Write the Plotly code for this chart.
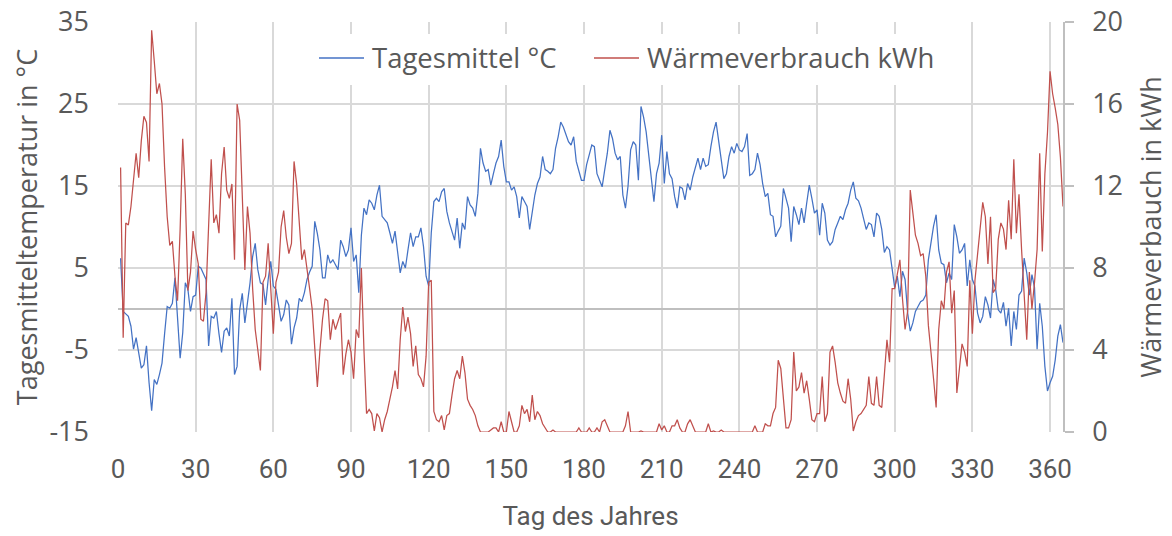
import plotly.graph_objects as go

# Tag des Jahres 1..365
days = list(range(1, 366))

# Tagesmittel °C
temp = [
    6.2, -0.3, -0.6, -0.9, -2.1, -4.9, -3.5, -5.5, -7.2, -6.8,
    -4.5, -9.0, -12.4, -8.6, -9.2, -8.0, -6.6, -3.0, 0.3, 0.1,
    0.7, 3.8, -1.0, -6.0, -2.9, 3.2, 2.4, -0.3, 1.5, 1.7,
    5.2, 5.0, 4.3, 3.6, -4.5, -0.9, -1.1, -0.3, -3.0, -5.3,
    -2.7, -2.3, -3.3, 1.3, -8.0, -7.0, -0.1, 1.9, -1.7, 0.7,
    3.2, 6.4, 8.0, 4.8, 3.2, 3.0, 0.5, 3.6, 5.8, 2.8,
    2.4, 0.5, -1.5, -0.7, 1.1, 0.5, -4.3, -2.3, -1.1, 1.3,
    0.9, 2.0, 3.6, 4.5, 5.2, 10.7, 9.2, 7.2, 3.8, 3.8,
    6.6, 5.6, 6.0, 5.4, 4.8, 8.4, 7.6, 6.4, 7.2, 9.9,
    5.8, 6.6, 2.0, 9.0, 12.3, 11.5, 13.3, 12.9, 12.1, 13.9,
    15.1, 11.3, 10.9, 10.5, 9.3, 8.0, 9.5, 6.6, 4.4, 5.8,
    5.0, 7.2, 9.3, 7.6, 8.8, 8.8, 9.9, 7.6, 4.0, 2.8,
    9.3, 13.1, 13.5, 13.1, 14.3, 14.7, 11.9, 10.5, 9.3, 8.4,
    11.1, 7.4, 10.5, 9.7, 13.7, 12.7, 12.3, 11.3, 14.1, 19.6,
    17.8, 16.8, 17.0, 15.1, 16.5, 17.8, 18.6, 20.6, 17.4, 15.5,
    15.5, 14.5, 14.9, 13.7, 11.1, 13.7, 13.1, 12.5, 9.7, 11.9,
    13.9, 15.3, 16.1, 18.6, 17.0, 16.8, 16.5, 17.0, 19.6, 21.0,
    22.8, 22.2, 21.2, 20.4, 20.0, 21.0, 18.0, 17.0, 15.7, 15.7,
    17.6, 18.8, 20.0, 19.8, 16.5, 15.7, 14.9, 17.0, 19.0, 21.8,
    20.8, 19.0, 18.2, 18.6, 13.9, 12.3, 15.0, 19.4, 20.4, 20.0,
    15.7, 24.7, 23.4, 21.6, 18.6, 16.1, 13.1, 16.5, 17.8, 21.2,
    15.3, 19.2, 16.5, 15.9, 13.7, 12.3, 14.9, 14.7, 13.3, 15.3,
    14.5, 16.1, 17.4, 18.4, 17.0, 18.4, 17.4, 17.6, 19.8, 21.6,
    22.8, 20.6, 18.2, 15.9, 16.5, 18.6, 19.8, 19.0, 20.2, 19.4,
    19.2, 19.8, 21.4, 16.3, 16.5, 17.0, 19.0, 17.6, 15.3, 13.7,
    14.1, 11.5, 11.3, 8.8, 9.5, 10.1, 14.7, 13.5, 12.3, 8.2,
    12.5, 11.5, 10.3, 12.3, 10.5, 12.9, 15.1, 13.5, 11.7, 12.1,
    9.0, 12.9, 11.7, 8.4, 7.8, 8.2, 9.7, 10.5, 11.3, 10.9,
    12.1, 12.9, 14.5, 15.5, 13.5, 13.2, 12.3, 11.0, 9.7, 10.5,
    10.3, 8.8, 11.7, 11.3, 9.7, 6.9, 7.6, 7.2, 4.6, 2.6,
    4.0, 1.5, 4.6, 3.6, -0.5, -2.7, -1.7, -0.3, 0.3, 0.9,
    1.1, 1.7, 6.0, 8.0, 10.1, 11.5, 7.2, 5.6, 5.4, 3.2,
    4.4, 3.6, 10.3, 8.8, 6.8, 7.2, 8.0, 2.8, 6.0, 3.6,
    2.8, -0.5, -1.7, -0.9, 1.5, 0.5, -1.1, 3.6, 2.4, -0.1,
    -0.5, 0.8, -2.1, 0.1, -4.5, -0.3, -2.5, 1.7, 2.2, 6.2,
    4.4, 1.7, 4.2, 2.6, -4.9, 0.7, -2.1, -7.0, -10.0, -9.0,
    -8.2, -6.2, -3.3, -1.9, -4.1,
]

# Wärmeverbrauch kWh
heat = [
    12.9, 4.6, 10.2, 10.1, 11.0, 12.5, 13.6, 12.4, 14.2, 15.4,
    15.1, 13.2, 19.6, 18.1, 16.5, 17.0, 16.0, 12.9, 10.5, 9.1,
    9.3, 7.6, 6.4, 9.9, 14.3, 11.6, 6.9, 7.8, 9.8, 8.9,
    8.2, 5.5, 5.4, 6.8, 10.0, 13.3, 10.2, 10.6, 9.7, 12.6,
    13.9, 11.8, 11.4, 12.1, 8.4, 16.0, 15.2, 11.3, 7.9, 11.0,
    9.7, 7.0, 5.0, 4.0, 3.0, 7.3, 7.6, 9.2, 7.0, 4.8,
    7.3, 7.8, 10.0, 10.8, 9.5, 8.7, 9.2, 13.2, 12.1, 10.0,
    8.4, 8.9, 7.8, 7.0, 6.0, 4.0, 2.2, 4.0, 5.5, 6.5,
    6.4, 4.5, 5.5, 5.0, 5.4, 5.8, 2.8, 3.8, 4.5, 3.9,
    2.6, 5.0, 4.6, 8.0, 4.0, 0.9, 1.1, 0.9, 0.05, 0.9,
    0.7, 0.0, 0.6, 1.0, 1.6, 2.2, 3.0, 2.1, 4.5, 6.1,
    4.9, 5.6, 4.8, 3.2, 4.2, 2.8, 2.6, 2.2, 3.7, 7.3,
    7.4, 1.0, 0.6, 0.5, 0.8, 0.1, 0.8, 0.9, 1.8, 2.6,
    3.0, 2.6, 3.7, 2.9, 1.6, 1.3, 1.1, 0.8, 0.3, 0.0,
    0.0, 0.0, 0.0, 0.1, 0.2, 0.2, 0.0, 0.5, 0.0, 0.0,
    1.0, 0.5, 0.0, 0.0, 0.3, 1.3, 0.9, 1.1, 0.5, 1.8,
    0.6, 1.0, 0.8, 0.4, 0.2, 0.0, 0.0, 0.1, 0.0, 0.0,
    0.0, 0.0, 0.0, 0.0, 0.0, 0.0, 0.0, 0.2, 0.0, 0.0,
    0.0, 0.2, 0.0, 0.0, 0.2, 0.0, 0.5, 0.6, 0.3, 0.0,
    0.0, 0.0, 0.0, 0.0, 0.0, 0.3, 1.0, 0.0, 0.0, 0.0,
    0.0, 0.05, 0.0, 0.0, 0.0, 0.0, 0.0, 0.0, 0.4, 0.1,
    0.3, 0.0, 0.0, 0.3, 0.3, 0.6, 0.2, 0.0, 0.0, 0.4,
    0.6, 0.3, 0.0, 0.0, 0.0, 0.0, 0.0, 0.4, 0.0, 0.05,
    0.0, 0.0, 0.1, 0.0, 0.0, 0.0, 0.0, 0.0, 0.0, 0.0,
    0.0, 0.0, 0.0, 0.0, 0.0, 0.3, 0.0, 0.0, 0.0, 0.4,
    0.3, 0.3, 0.9, 1.2, 3.5, 3.1, 1.8, 0.2, 0.2, 0.6,
    3.9, 2.0, 2.2, 2.9, 1.9, 2.5, 1.6, 0.6, 0.5, 0.9,
    0.9, 2.7, 0.5, 0.9, 3.9, 4.2, 3.4, 2.4, 1.9, 1.5,
    1.4, 2.6, 1.6, 0.05, 0.5, 0.8, 0.9, 1.1, 1.3, 2.7,
    1.4, 1.3, 2.7, 1.3, 1.2, 2.8, 4.5, 3.4, 7.0, 7.0,
    7.8, 8.4, 6.5, 5.0, 5.9, 11.8, 10.7, 9.6, 9.2, 8.6,
    8.7, 7.6, 5.2, 3.7, 2.6, 1.2, 5.0, 6.4, 6.0, 7.8,
    8.3, 5.8, 6.9, 1.9, 3.0, 4.3, 3.9, 3.2, 7.4, 4.8,
    7.4, 8.6, 10.0, 11.2, 10.5, 8.2, 10.5, 6.8, 7.0, 9.4,
    10.2, 9.9, 8.9, 11.3, 9.4, 13.3, 9.7, 11.6, 8.9, 6.6,
    4.5, 7.8, 6.0, 7.3, 8.9, 13.6, 8.8, 12.6, 14.6, 17.6,
    16.5, 15.8, 15.0, 13.4, 11.0,
]

series_names = ["Tagesmittel °C", "Wärmeverbrauch kWh"]
series_colors = ["#4472C4", "#C0504D"]

x_ticks = [0, 30, 60, 90, 120, 150, 180, 210, 240, 270, 300, 330, 360]
y_ticks = [-15, -5, 5, 15, 25, 35]
y_ticktext = ["-15", "-5", "5", "15", "25", "35"]
y2_ticks = [0, 4, 8, 12, 16, 20]

TXT = "#595959"
GRID = "#D9D9D9"
AXL = "#BFBFBF"
FONT = "Open Sans"
NARROW = "Roboto"

W, H = 1172, 536
ML, MR, MT, MB = 118, 109, 22, 104
PW, PH = W - ML - MR, H - MT - MB


def px2paper_x(px):
    return (px - ML) / PW


def px2paper_y(py):
    return (H - MB - py) / PH


fig = go.Figure()
fig.add_trace(go.Scatter(x=days, y=temp, mode="lines", name=series_names[0],
                         line=dict(color=series_colors[0], width=1.25), yaxis="y"))
fig.add_trace(go.Scatter(x=days, y=heat, mode="lines", name=series_names[1],
                         line=dict(color=series_colors[1], width=1.25), yaxis="y2"))

# legend drawn inside the plot (white box over the gridlines)
shapes = [dict(type="rect", xref="paper", yref="paper",
               x0=px2paper_x(305), x1=px2paper_x(948), y0=px2paper_y(85), y1=px2paper_y(34),
               fillcolor="white", line=dict(width=0), layer="above")]
annotations = []
legend_items = [(319, 364, 370), (594, 639, 645)]
ly = px2paper_y(58)
for (lx0, lx1, tx), name, col in zip(legend_items, series_names, series_colors):
    shapes.append(dict(type="line", xref="paper", yref="paper",
                       x0=px2paper_x(lx0), x1=px2paper_x(lx1), y0=ly, y1=ly,
                       line=dict(color=col, width=1.5), layer="above"))
    annotations.append(dict(text=name, xref="paper", yref="paper", x=px2paper_x(tx), y=ly,
                            xanchor="left", yanchor="middle", showarrow=False,
                            font=dict(family=FONT, size=27.5, color=TXT)))

fig.update_layout(
    width=W, height=H,
    margin=dict(l=ML, r=MR, t=MT, b=MB, autoexpand=False),
    paper_bgcolor="white", plot_bgcolor="white",
    font=dict(family=FONT, color=TXT, size=27),
    showlegend=False,
    shapes=shapes, annotations=annotations,
    xaxis=dict(range=[0, 365], tickvals=x_ticks, showgrid=True, gridcolor=GRID, gridwidth=1.5,
               zeroline=False, showline=False, ticks="", automargin=False,
               ticklabeloverflow="allow",
               tickfont=dict(family=NARROW, size=26, color=TXT), ticklabelstandoff=19,
               title=dict(text="Tag des Jahres", font=dict(family=NARROW, size=26, color=TXT), standoff=23)),
    yaxis=dict(range=[-15, 35], tickvals=y_ticks, ticktext=y_ticktext, showgrid=True,
               gridcolor=GRID, gridwidth=1.5, automargin=False, ticklabeloverflow="allow",
               zeroline=True, zerolinecolor=AXL, zerolinewidth=1.5, showline=False, ticks="",
               tickfont=dict(size=27, color=TXT), ticklabelstandoff=28,
               title=dict(text="Tagesmitteltemperatur in °C", font=dict(size=27, color=TXT), standoff=3)),
    yaxis2=dict(range=[0, 20], tickvals=y2_ticks, overlaying="y", side="right", automargin=False,
                ticklabeloverflow="allow",
                showgrid=False, zeroline=False, showline=True, linecolor=AXL, linewidth=1.5,
                ticks="outside", ticklen=9, tickcolor=AXL, tickwidth=1.5,
                tickfont=dict(size=27, color=TXT), ticklabelstandoff=13,
                title=dict(text="Wärmeverbauch in kWh", font=dict(size=27, color=TXT), standoff=20)),
)

# remove the browser's default 8px page margin so the figure fills the window exactly
fig.write_html("out.html",
               config={"displayModeBar": False},
               post_script="document.body.style.margin='0';document.body.style.overflow='hidden';")
